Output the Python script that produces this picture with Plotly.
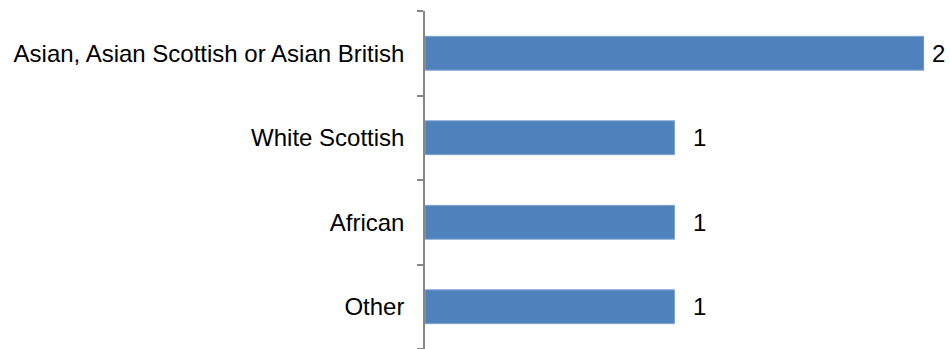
import plotly.graph_objects as go

# Respondent counts by ethnic group
categories = ["Asian, Asian Scottish or Asian British", "White Scottish", "African", "Other"]
counts = [2, 1, 1, 1]

bar_color = "#4F81BD"
font_family = "Liberation Sans, Arial, sans-serif"

fig = go.Figure(
    go.Bar(
        x=counts,
        y=categories,
        orientation="h",
        marker=dict(color=bar_color, line=dict(color="#7FA3D1", width=1)),
        hoverinfo="skip",
    )
)

# Value labels just past the end of each bar; the longest bar's label is
# pulled in closer so it stays inside the page
max_count = max(counts)
for c, v in zip(categories, counts):
    fig.add_annotation(
        x=v, y=c, text=str(v), showarrow=False,
        xanchor="left", yanchor="middle",
        xshift=6 if v == max_count else 16,
        font=dict(family=font_family, size=24, color="#000000"),
    )

fig.update_layout(
    width=950,
    height=349,
    margin=dict(l=425, r=25.5, t=11, b=0),
    paper_bgcolor="white",
    plot_bgcolor="white",
    bargap=0.6,
    showlegend=False,
    font=dict(family=font_family, size=24, color="#000000"),
    xaxis=dict(range=[0, 2], visible=False, fixedrange=True),
    yaxis=dict(
        categoryorder="array",
        categoryarray=categories[::-1],
        showline=True,
        linecolor="#868686",
        linewidth=1.5,
        ticks="outside",
        tickson="boundaries",
        ticklen=6,
        tickcolor="#868686",
        tickwidth=1.5,
        showgrid=False,
        zeroline=False,
        ticklabelstandoff=14,
        tickfont=dict(family=font_family, size=24, color="#000000"),
        fixedrange=True,
    ),
)

fig.write_html("out.html")
